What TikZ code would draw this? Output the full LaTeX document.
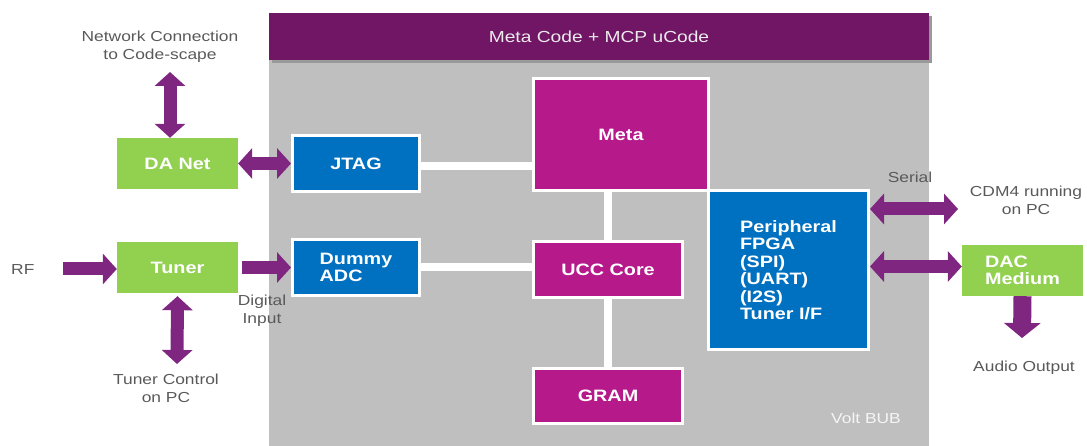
\documentclass[tikz,border=0pt]{standalone}
\usepackage{fontspec}
\setmainfont{Liberation Sans}[FakeStretch=1.2]
\usetikzlibrary{arrows.meta}

\definecolor{bubgray}{HTML}{BFBFBF}
\definecolor{barpurple}{HTML}{701665}
\definecolor{metamag}{HTML}{B5198A}
\definecolor{fpgablue}{HTML}{0070C0}
\definecolor{extgreen}{HTML}{92D050}
\definecolor{arrpurple}{HTML}{7F2680}
\definecolor{lblgray}{HTML}{595959}

\tikzset{
    blk/.style={rectangle, draw=white, line width=3pt, text=white,
        font=\fontsize{16.5}{17.5}\selectfont\bfseries, inner sep=0pt},
    magbox/.style={blk, fill=metamag},
    bluebox/.style={blk, fill=fpgablue},
    greenbox/.style={rectangle, fill=extgreen, text=white,
        font=\fontsize{16.5}{17.5}\selectfont\bfseries, inner sep=0pt},
    lbl/.style={text=lblgray, align=center, inner sep=0pt,
        font=\fontsize{14.5}{18}\selectfont},
    bus/.style={white, line width=8pt},
    fat/.style={arrpurple, line width=13pt,
        -{Triangle[width=30pt,length=14pt]}},
    fatboth/.style={fat, {Triangle[width=30pt,length=14pt]}-{Triangle[width=30pt,length=14pt]}}
}

\begin{document}
\begin{tikzpicture}[x=1pt, y=-1pt]
    \useasboundingbox (0,0) rectangle (1087,446);

    % Volt BUB board and code bar
    \fill[bubgray] (269,13) rectangle (929,446);
    \fill[black!40] (272,16) rectangle (932,63);
    \fill[barpurple] (269,13) rectangle (929,60);
    \node[text=white!92!black, font=\fontsize{16}{18}\selectfont] (code) at (599,37) {Meta Code + MCP uCode};
    \node[text=white!92!gray, font=\fontsize{14.5}{18}\selectfont] (volt) at (866,418) {Volt BUB};

    % blocks on the board
    \node[magbox, minimum width=175pt, minimum height=112pt] (meta) at (621,134.5) {Meta};
    \node[magbox, minimum width=149pt, minimum height=56pt] (ucc) at (608,269.5) {UCC Core};
    \node[magbox, minimum width=149pt, minimum height=55pt] (gram) at (608,396) {GRAM};
    \node[bluebox, minimum width=127pt, minimum height=56pt] (jtag) at (356,163.5) {JTAG};
    \node[bluebox, minimum width=127pt, minimum height=56pt, align=left] (adc) at (356,267.5) {Dummy\\ADC};
    \node[bluebox, minimum width=160pt, minimum height=159pt, align=left] (fpga) at (788.5,270)
        {Peripheral\\FPGA\\(SPI)\\(UART)\\(I2S)\\Tuner I/F};

    % outside blocks
    \node[greenbox, minimum width=121pt, minimum height=51pt] (danet) at (177.5,163.5) {DA Net};
    \node[greenbox, minimum width=121pt, minimum height=51pt] (tuner) at (177.5,267.5) {Tuner};
    \node[greenbox, minimum width=121pt, minimum height=51pt, align=left] (dac) at (1022.5,270.5) {DAC\\Medium};

    % white buses
    \draw[bus] ([yshift=-3pt]jtag.east) -- ([yshift=-3pt]jtag.east -| meta.west);
    \draw[bus] (adc.east) -- (adc.east -| ucc.west);
    \draw[bus] (meta.south -| ucc) -- (ucc.north);
    \draw[bus] (ucc.south) -- (gram.north);

    % labels
    \node[lbl] (netlbl) at (160,47) {Network Connection\\to Code-scape};
    \node[lbl, anchor=west] (rf) at (11,270) {RF};
    \node[lbl] (diglbl) at (262,311) {Digital\\Input};
    \node[lbl] (tunlbl) at (166,388) {Tuner Control\\on PC};
    \node[lbl] (serial) at (910,177) {Serial};
    \node[lbl] (cdm) at (1026,200) {CDM4 running\\on PC};
    \node[lbl] (audio) at (1024,368) {Audio Output};

    % purple arrows
    \coordinate (netc) at (170,72);
    \coordinate (rfc) at (63,269);
    \coordinate (tunc) at (177,364);
    \coordinate (cdmc) at (958,209);
    \coordinate (audc) at (1022,338);

    \draw[fatboth] (netc) -- (netc |- danet.north);
    \draw[fatboth] (danet.east) -- (jtag.west);
    \draw[fat] (rfc) -- (rfc -| tuner.west);
    \draw[fat, shorten <=4pt] (tuner.east) -- (adc.west);
    \draw[fatboth, shorten <=3pt] (tuner.south) -- (tunc);
    \draw[fatboth] (cdmc -| fpga.east) -- (cdmc);
    \draw[fatboth] ([yshift=4pt]fpga.east |- dac.west) -- ([yshift=4pt]dac.west);
    \draw[arrpurple, line width=18pt, -{Triangle[width=36pt,length=15pt]}] (dac.south) -- (audc);
\end{tikzpicture}
\end{document}
